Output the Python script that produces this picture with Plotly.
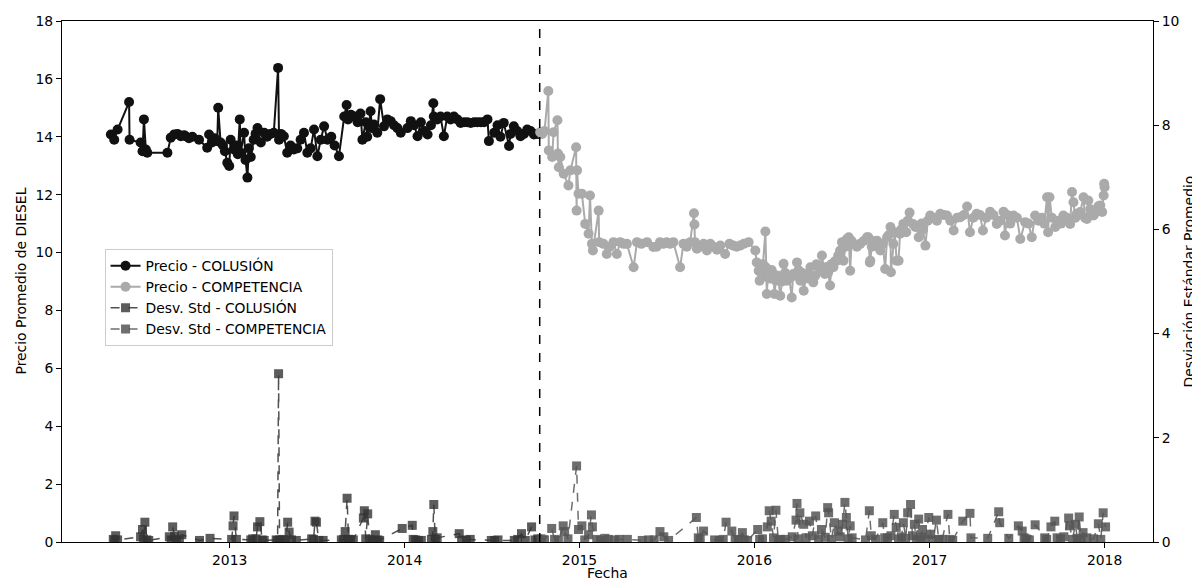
import plotly.graph_objects as go
import pandas as pd

# ---------------- data ----------------
SPLIT_DATE = "2014-10-10"
X_RANGE = ["2012-01-17", "2018-04-12"]
YEAR_TICKS = ["2013-01-01", "2014-01-01", "2015-01-01", "2016-01-01", "2017-01-01", "2018-01-01"]
YEAR_LABELS = ["2013", "2014", "2015", "2016", "2017", "2018"]

colusion_dates = [
    "2012-04-28", "2012-05-05", "2012-05-12", "2012-06-05", "2012-06-06", "2012-06-29",
    "2012-07-03", "2012-07-06", "2012-07-10", "2012-07-13", "2012-08-24", "2012-08-31",
    "2012-09-07", "2012-09-21", "2012-10-01", "2012-10-29", "2012-11-15", "2012-11-19",
    "2012-12-06", "2012-12-08", "2012-12-13", "2012-12-27", "2012-12-31", "2013-01-03",
    "2013-01-10", "2013-01-22", "2013-01-24", "2013-01-31", "2013-02-03", "2013-02-07",
    "2013-02-14", "2013-02-28", "2013-03-07", "2013-03-14", "2013-04-03", "2013-04-12",
    "2013-04-14", "2013-04-24", "2013-05-01", "2013-05-15", "2013-06-05", "2013-06-12",
    "2013-06-26", "2013-07-03", "2013-07-17", "2013-07-24", "2013-08-17", "2013-08-28",
    "2013-09-02", "2013-09-11", "2013-10-01", "2013-10-05", "2013-10-22", "2013-10-29",
    "2013-11-05", "2013-11-11", "2013-11-19", "2013-12-03", "2013-12-24", "2014-01-14",
    "2014-01-28", "2014-02-18", "2014-03-02", "2014-03-03", "2014-03-24", "2014-03-31",
    "2014-04-14", "2014-04-28", "2014-05-19", "2014-06-23", "2014-06-26", "2014-07-07",
    "2014-07-27", "2014-08-07", "2014-08-17", "2014-08-31", "2014-09-14", "2014-09-28",
    "2014-10-08",
    # additional points of the dense band
    "2012-09-14", "2012-09-28", "2012-10-08", "2012-10-15", "2012-11-25", "2012-12-01",
    "2012-12-18", "2012-12-22", "2013-01-15", "2013-01-18", "2013-02-10", "2013-02-20",
    "2013-02-24", "2013-03-20", "2013-03-27", "2013-04-18", "2013-05-08", "2013-05-22",
    "2013-05-29", "2013-06-19", "2013-07-10", "2013-08-01", "2013-08-08", "2013-09-05",
    "2013-09-18", "2013-09-25", "2013-10-12", "2013-10-15", "2013-10-25", "2013-11-26",
    "2013-12-10", "2013-12-17", "2014-01-07", "2014-01-21", "2014-02-04", "2014-02-11",
    "2014-02-25", "2014-03-10", "2014-03-17", "2014-04-07", "2014-04-21", "2014-05-05",
    "2014-05-12", "2014-05-26", "2014-06-02", "2014-06-09", "2014-06-16", "2014-07-14",
    "2014-07-20", "2014-08-10", "2014-08-24", "2014-09-07", "2014-09-21", "2014-10-02",
]
colusion_precio = [
    14.08, 13.90, 14.25, 15.20, 13.90, 13.80,
    13.50, 14.60, 13.56, 13.45, 13.45, 13.97,
    14.08, 14.02, 14.02, 13.90, 13.62, 14.08,
    13.85, 15.00, 13.80, 13.10, 12.99, 13.90,
    13.56, 14.60, 13.45, 14.14, 13.20, 12.59,
    13.30, 14.30, 13.80, 14.14, 14.14, 16.38,
    13.90, 14.02, 13.45, 13.56, 14.14, 13.45,
    14.25, 13.33, 14.36, 13.90, 13.33, 14.70,
    15.10, 14.76, 14.80, 13.90, 14.88, 14.42,
    14.14, 15.30, 14.36, 14.54, 14.14, 14.54,
    14.02, 14.08, 15.16, 14.70, 14.02, 14.70,
    14.70, 14.48, 14.48, 14.60, 13.85, 14.14,
    14.48, 13.68, 14.36, 14.02, 14.25, 14.08,
    14.10,
    14.10, 14.05, 13.95, 14.00, 13.80, 13.95,
    13.70, 13.50, 13.70, 13.40, 13.60, 13.90,
    14.10, 14.00, 14.10, 14.10, 13.70, 13.60,
    13.90, 13.60, 13.90, 14.00, 13.70, 14.60,
    14.70, 14.50, 14.50, 14.00, 14.30, 14.60,
    14.40, 14.30, 14.30, 14.40, 14.50, 14.20,
    14.40, 14.60, 14.70, 14.60, 14.60, 14.50,
    14.50, 14.50, 14.50, 14.50, 14.50, 14.40,
    14.00, 14.10, 14.20, 14.10, 14.20, 14.10,
]

competencia_dates = [
    "2014-10-11", "2014-10-28", "2014-10-29", "2014-11-05", "2014-11-08", "2014-11-16",
    "2014-11-17", "2014-11-19", "2014-11-22", "2014-11-29", "2014-12-09", "2014-12-13",
    "2014-12-25", "2014-12-26", "2014-12-27", "2014-12-30", "2015-01-06", "2015-01-13",
    "2015-01-20", "2015-01-23", "2015-01-27", "2015-01-29", "2015-02-10", "2015-02-11",
    "2015-02-20", "2015-02-27", "2015-03-13", "2015-03-20", "2015-03-27", "2015-04-10",
    "2015-04-24", "2015-05-01", "2015-05-22", "2015-06-04", "2015-06-18", "2015-07-02",
    "2015-07-16", "2015-07-30", "2015-08-20", "2015-08-28", "2015-08-29", "2015-08-30",
    "2015-09-03", "2015-09-17", "2015-09-24", "2015-10-22", "2015-11-01", "2015-11-18",
    "2015-12-02", "2015-12-20", "2016-01-03", "2016-01-06", "2016-01-10", "2016-01-12",
    "2016-01-24", "2016-01-25", "2016-01-27", "2016-01-29", "2016-02-10", "2016-02-12",
    "2016-02-15", "2016-02-24", "2016-03-02", "2016-03-09", "2016-03-19", "2016-03-22",
    "2016-03-30", "2016-04-06", "2016-04-13", "2016-04-19", "2016-04-27", "2016-05-03",
    "2016-05-14", "2016-05-21", "2016-05-27", "2016-06-07", "2016-06-14", "2016-06-21",
    "2016-06-28", "2016-07-02", "2016-07-05", "2016-07-12", "2016-07-16", "2016-07-19",
    "2016-07-26", "2016-08-09", "2016-08-23", "2016-08-26", "2016-08-29", "2016-08-30",
    "2016-09-06", "2016-09-13", "2016-09-20", "2016-09-30", "2016-10-04", "2016-10-11",
    "2016-10-12", "2016-10-24", "2016-10-28", "2016-10-31", "2016-11-07", "2016-11-20",
    "2016-11-27", "2016-12-02", "2016-12-09", "2016-12-23", "2017-01-02", "2017-01-23",
    "2017-02-06", "2017-02-20", "2017-03-06", "2017-03-20", "2017-03-26", "2017-04-09",
    "2017-04-22", "2017-05-07", "2017-05-21", "2017-06-04", "2017-06-07", "2017-06-25",
    "2017-07-09", "2017-07-19", "2017-08-02", "2017-08-09", "2017-09-03", "2017-09-05",
    "2017-09-08", "2017-09-20", "2017-10-07", "2017-10-21", "2017-10-25", "2017-10-28",
    "2017-11-04", "2017-11-18", "2017-11-25", "2017-11-28", "2017-12-09", "2017-12-15",
    "2017-12-23", "2017-12-30", "2017-12-31", "2018-01-01",
    # additional points of the dense band
    "2014-10-15", "2014-10-20", "2015-03-05", "2015-04-03", "2015-05-10", "2015-06-11",
    "2015-06-25", "2015-07-09", "2015-08-06", "2015-08-13", "2015-09-10", "2015-10-01",
    "2015-10-08", "2015-10-15", "2015-11-10", "2015-11-25", "2015-12-10", "2016-01-15",
    "2016-01-19", "2016-02-03", "2016-02-06", "2016-02-19", "2016-02-28", "2016-03-05",
    "2016-03-14", "2016-03-26", "2016-04-02", "2016-04-09", "2016-04-23", "2016-05-07",
    "2016-05-10", "2016-05-18", "2016-05-31", "2016-06-03", "2016-06-10", "2016-06-17",
    "2016-06-24", "2016-07-09", "2016-07-22", "2016-08-02", "2016-08-16", "2016-09-02",
    "2016-09-09", "2016-09-16", "2016-09-25", "2016-10-07", "2016-10-17", "2016-10-20",
    "2016-11-03", "2016-11-13", "2016-11-16", "2016-12-05", "2016-12-15", "2016-12-18",
    "2016-12-28", "2017-01-09", "2017-01-16", "2017-01-30", "2017-02-13", "2017-02-27",
    "2017-03-13", "2017-04-02", "2017-04-16", "2017-04-29", "2017-05-14", "2017-05-28",
    "2017-06-12", "2017-06-18", "2017-07-02", "2017-07-26", "2017-08-16", "2017-08-23",
    "2017-08-28", "2017-09-13", "2017-09-27", "2017-10-02", "2017-10-14", "2017-11-01",
    "2017-11-11", "2017-11-21", "2017-12-02", "2017-12-05", "2017-12-19", "2017-12-27",
]
competencia_precio = [
    14.16, 15.58, 13.53, 13.30, 14.16, 14.57,
    13.42, 12.95, 13.30, 12.72, 12.32, 12.84,
    13.64, 11.45, 12.84, 12.03, 12.03, 10.99,
    10.65, 11.97, 10.30, 10.07, 11.45, 10.36,
    10.30, 9.95, 10.36, 9.95, 10.36, 10.30,
    9.49, 10.36, 10.36, 10.19, 10.36, 10.36,
    10.36, 9.49, 10.36, 11.36, 10.97, 10.36,
    10.13, 10.30, 10.07, 10.24, 9.95, 10.24,
    10.24, 10.36, 10.07, 9.66, 9.37, 9.03,
    10.73, 9.49, 8.57, 9.14, 9.26, 8.57,
    9.03, 8.51, 9.61, 9.03, 8.45, 9.26,
    9.66, 9.03, 8.68, 9.26, 9.49, 8.97,
    9.49, 9.90, 9.26, 8.86, 9.49, 9.72,
    10.07, 10.36, 9.72, 10.47, 10.53, 9.37,
    10.30, 10.30, 10.53, 10.53, 9.66, 9.72,
    10.30, 10.41, 10.07, 9.43, 10.53, 10.88,
    9.32, 9.72, 9.72, 10.65, 10.99, 11.38,
    10.99, 10.88, 10.53, 10.24, 11.28, 11.34,
    11.28, 10.76, 11.22, 11.59, 10.70, 11.34,
    10.76, 11.41, 10.99, 11.41, 10.59, 11.28,
    10.47, 11.05, 10.53, 11.28, 11.91, 10.70,
    11.91, 10.88, 11.28, 10.99, 12.09, 11.74,
    11.34, 11.91, 11.16, 11.80, 11.28, 11.40,
    11.63, 11.97, 12.38, 12.26,
    14.10, 14.20, 10.20, 10.30, 10.30, 10.20,
    10.30, 10.30, 10.30, 10.20, 10.20, 10.30,
    10.20, 10.10, 10.30, 10.20, 10.30, 9.30,
    9.60, 9.10, 9.40, 9.20, 9.00, 9.30,
    9.10, 9.20, 9.40, 9.30, 9.10, 9.20,
    9.60, 9.40, 9.50, 9.30, 9.60, 9.70,
    9.90, 10.20, 10.40, 10.20, 10.40, 10.20,
    10.40, 10.20, 10.30, 10.60, 10.30, 10.70,
    10.80, 10.70, 11.10, 10.90, 11.00, 10.80,
    11.10, 11.20, 11.10, 11.30, 11.10, 11.20,
    11.30, 11.20, 11.30, 11.20, 11.30, 11.10,
    11.30, 11.00, 11.20, 11.00, 11.10, 11.20,
    11.00, 11.20, 11.10, 11.00, 11.20, 11.20,
    11.40, 11.20, 11.50, 11.30, 11.60, 11.40,
]

std_colusion_dates = [
    "2012-05-03", "2012-05-08", "2012-05-12", "2012-06-29", "2012-07-03", "2012-07-08",
    "2012-07-12", "2012-08-28", "2012-09-04", "2012-09-08", "2012-09-23", "2012-10-30",
    "2012-11-21", "2013-01-05", "2013-01-08", "2013-01-10", "2013-01-15", "2013-02-25",
    "2013-02-28", "2013-03-05", "2013-03-10", "2013-04-11", "2013-04-13", "2013-04-15",
    "2013-05-02", "2013-05-05", "2013-05-20", "2013-06-25", "2013-06-28", "2013-07-01",
    "2013-07-15", "2013-08-27", "2013-08-30", "2013-09-03", "2013-09-06", "2013-10-07",
    "2013-10-09", "2013-10-16", "2013-10-20", "2013-11-01", "2013-11-10", "2013-12-27",
    "2014-01-17", "2014-01-19", "2014-02-05", "2014-03-01", "2014-03-03", "2014-03-06",
    "2014-04-25", "2014-05-18", "2014-07-01", "2014-08-18", "2014-09-02", "2014-09-23",
    "2014-10-06",
    # near-zero squares along the baseline
    "2012-05-06", "2012-07-05", "2012-07-16", "2012-09-01", "2012-09-12", "2012-09-18",
    "2013-02-14", "2013-02-18", "2013-03-14", "2013-04-08", "2013-04-22", "2013-04-28",
    "2013-05-10", "2013-06-21", "2013-07-06", "2013-08-22", "2013-09-10", "2013-09-16",
    "2013-10-12", "2013-10-26", "2013-11-06", "2014-01-24", "2014-01-30", "2014-02-26",
    "2014-03-10", "2014-04-30", "2014-05-10", "2014-07-08", "2014-07-15", "2014-08-25",
    "2014-09-10", "2014-09-30",
]
std_colusion = [
    0.05, 0.12, 0.04, 0.10, 0.24, 0.38,
    0.04, 0.10, 0.29, 0.11, 0.14, 0.03,
    0.07, 0.05, 0.31, 0.50, 0.05, 0.06,
    0.29, 0.39, 0.04, 0.03, 3.23, 0.04,
    0.38, 0.19, 0.03, 0.05, 0.40, 0.38,
    0.03, 0.05, 0.20, 0.84, 0.05, 0.46,
    0.60, 0.54, 0.05, 0.14, 0.03, 0.26,
    0.32, 0.05, 0.03, 0.20, 0.72, 0.05,
    0.16, 0.05, 0.03, 0.03, 0.16, 0.29,
    0.06,
    0.03, 0.06, 0.03, 0.04, 0.05, 0.03,
    0.04, 0.06, 0.03, 0.04, 0.05, 0.03,
    0.04, 0.06, 0.03, 0.04, 0.05, 0.04,
    0.06, 0.03, 0.04, 0.04, 0.03, 0.05,
    0.08, 0.03, 0.04, 0.03, 0.04, 0.05,
    0.03, 0.04,
]

std_competencia_dates = [
    "2014-10-13", "2014-11-04", "2014-11-28", "2014-12-01", "2014-12-26", "2014-12-30",
    "2015-01-06", "2015-01-20", "2015-01-26", "2015-01-28", "2015-02-23", "2015-03-02",
    "2015-04-11", "2015-05-25", "2015-06-18", "2015-06-26", "2015-09-02", "2015-09-06",
    "2015-09-17", "2015-10-28", "2015-11-03", "2015-11-15", "2015-12-07", "2015-12-11",
    "2016-01-08", "2016-01-12", "2016-01-28", "2016-02-01", "2016-02-05", "2016-02-15",
    "2016-02-25", "2016-03-28", "2016-03-30", "2016-04-05", "2016-04-13", "2016-04-25",
    "2016-05-08", "2016-05-20", "2016-06-02", "2016-06-04", "2016-06-16", "2016-06-24",
    "2016-07-03", "2016-07-08", "2016-07-11", "2016-07-19", "2016-07-23", "2016-08-28",
    "2016-09-01", "2016-09-25", "2016-09-29", "2016-10-19", "2016-10-23", "2016-11-07",
    "2016-11-16", "2016-11-22", "2016-11-30", "2016-12-09", "2016-12-17", "2016-12-30",
    "2017-01-03", "2017-01-15", "2017-01-27", "2017-02-08", "2017-02-12", "2017-03-11",
    "2017-03-26", "2017-03-28", "2017-05-02", "2017-05-25", "2017-05-27", "2017-06-15",
    "2017-07-05", "2017-07-13", "2017-07-17", "2017-08-09", "2017-08-29", "2017-09-11",
    "2017-09-19", "2017-10-18", "2017-10-20", "2017-11-01", "2017-11-09", "2017-11-17",
    "2017-11-25", "2017-12-19", "2017-12-29", "2018-01-03",
    # near-zero squares along the baseline
    "2014-10-20", "2014-11-10", "2014-11-18", "2014-12-08", "2015-01-12", "2015-02-06",
    "2015-02-14", "2015-03-15", "2015-03-25", "2015-05-12", "2015-06-06", "2015-07-06",
    "2015-09-10", "2015-10-10", "2015-10-20", "2015-11-22", "2015-11-29", "2015-12-18",
    "2016-01-18", "2016-02-10", "2016-02-20", "2016-03-06", "2016-03-20", "2016-04-01",
    "2016-04-18", "2016-05-01", "2016-05-14", "2016-05-28", "2016-06-10", "2016-06-28",
    "2016-07-15", "2016-08-20", "2016-09-10", "2016-10-05", "2016-10-12", "2016-10-28",
    "2016-11-03", "2016-11-12", "2016-11-26", "2016-12-04", "2016-12-13", "2016-12-22",
    "2017-01-08", "2017-01-20", "2017-02-18", "2017-07-21", "2017-07-28", "2017-09-02",
    "2017-09-24", "2017-10-01", "2017-10-08", "2017-10-26", "2017-11-05", "2017-11-13",
    "2017-12-09", "2017-12-24",
]
std_competencia = [
    0.06, 0.26, 0.31, 0.20, 1.46, 0.24,
    0.31, 0.14, 0.52, 0.29, 0.07, 0.05,
    0.05, 0.04, 0.20, 0.10, 0.47, 0.08,
    0.21, 0.05, 0.38, 0.21, 0.18, 0.04,
    0.24, 0.05, 0.29, 0.60, 0.40, 0.61,
    0.05, 0.42, 0.74, 0.56, 0.34, 0.40,
    0.50, 0.24, 0.66, 0.56, 0.37, 0.21,
    0.34, 0.76, 0.47, 0.31, 0.08, 0.60,
    0.12, 0.37, 0.08, 0.53, 0.28, 0.37,
    0.56, 0.72, 0.34, 0.44, 0.24, 0.47,
    0.15, 0.42, 0.05, 0.53, 0.05, 0.40,
    0.55, 0.08, 0.07, 0.58, 0.37, 0.07,
    0.31, 0.21, 0.08, 0.33, 0.08, 0.29,
    0.40, 0.46, 0.31, 0.34, 0.48, 0.18,
    0.08, 0.35, 0.56, 0.29,
    0.04, 0.05, 0.03, 0.06, 0.04, 0.05,
    0.03, 0.04, 0.05, 0.03, 0.04, 0.03,
    0.05, 0.04, 0.03, 0.05, 0.04, 0.03,
    0.06, 0.08, 0.04, 0.05, 0.10, 0.06,
    0.08, 0.12, 0.06, 0.09, 0.05, 0.10,
    0.06, 0.04, 0.05, 0.08, 0.12, 0.06,
    0.10, 0.07, 0.12, 0.05, 0.09, 0.06,
    0.04, 0.05, 0.03, 0.06, 0.04, 0.05,
    0.08, 0.06, 0.10, 0.05, 0.07, 0.04,
    0.06, 0.05,
]


def sorted_series(dates, values):
    s = pd.Series(values, index=pd.to_datetime(dates)).sort_index()
    return s.index, s.values


# ---------------- figure ----------------
FONT = "DejaVu Sans"
FS = 13.9

# page body has an 8px margin: the figure is sized and offset to fill the 1200x583 window
W, H = 1192, 575
ML, MR, MT, MB = 54, 47, 13, 41

fig = go.Figure()

x, y = sorted_series(colusion_dates, colusion_precio)
fig.add_trace(go.Scatter(
    x=x, y=y, mode="lines+markers", name="Precio - COLUSIÓN",
    line=dict(color="#111111", width=2),
    marker=dict(symbol="circle", size=10, color="#111111"),
    yaxis="y",
))
x, y = sorted_series(competencia_dates, competencia_precio)
fig.add_trace(go.Scatter(
    x=x, y=y, mode="lines+markers", name="Precio - COMPETENCIA",
    line=dict(color="#aaaaaa", width=2),
    marker=dict(symbol="circle", size=10, color="#aaaaaa"),
    yaxis="y",
))
x, y = sorted_series(std_colusion_dates, std_colusion)
fig.add_trace(go.Scatter(
    x=x, y=y, mode="lines+markers", name="Desv. Std - COLUSIÓN",
    line=dict(color="rgba(51,51,51,0.85)", width=1.5, dash="dash"),
    marker=dict(symbol="square", size=9, color="#333333", opacity=0.8),
    yaxis="y2",
))
x, y = sorted_series(std_competencia_dates, std_competencia)
fig.add_trace(go.Scatter(
    x=x, y=y, mode="lines+markers", name="Desv. Std - COMPETENCIA",
    line=dict(color="rgba(85,85,85,0.85)", width=1.5, dash="dash"),
    marker=dict(symbol="square", size=9, color="#555555", opacity=0.85),
    yaxis="y2",
))

fig.add_shape(
    type="line", xref="x", yref="paper",
    x0=SPLIT_DATE, x1=SPLIT_DATE, y0=0, y1=1,
    line=dict(color="black", width=1.5, dash="dash"),
)

axis_common = dict(
    showgrid=False, zeroline=False, showline=True, linecolor="black", linewidth=1,
    ticks="outside", ticklen=5, tickwidth=1, tickcolor="black",
    tickfont=dict(family=FONT, size=FS, color="black"),
    automargin=False,
)

title_font = dict(family=FONT, size=FS, color="black")
fig.add_annotation(text="Fecha", xref="paper", yref="paper", x=0.5, y=0,
                   xanchor="center", yanchor="middle", yshift=-31,
                   showarrow=False, font=title_font)
fig.add_annotation(text="Precio Promedio de DIESEL", xref="paper", yref="paper",
                   x=0, y=0.5, xanchor="center", yanchor="middle", xshift=-42,
                   textangle=-90, showarrow=False, font=title_font)
fig.add_annotation(text="Desviación Estándar Promedio", xref="paper", yref="paper",
                   x=1, y=0.5, xanchor="center", yanchor="middle", xshift=35,
                   textangle=-90, showarrow=False, font=title_font)

fig.update_layout(
    template="none",
    width=W, height=H,
    margin=dict(l=ML, r=MR, t=MT, b=MB),
    paper_bgcolor="white", plot_bgcolor="white",
    font=dict(family=FONT, size=FS, color="black"),
    showlegend=True,
    legend=dict(
        x=0.039, y=0.562, xanchor="left", yanchor="top",
        bgcolor="rgba(255,255,255,0.8)", bordercolor="#cccccc", borderwidth=1,
        font=dict(family=FONT, size=FS, color="black"),
        tracegroupgap=0, itemwidth=30,
    ),
    xaxis=dict(
        **axis_common,
        type="date", range=X_RANGE, mirror=True,
        tickvals=YEAR_TICKS, ticktext=YEAR_LABELS,
    ),
    yaxis=dict(
        **axis_common,
        range=[0, 18], dtick=2, tick0=0, mirror=False,
    ),
    yaxis2=dict(
        **axis_common,
        range=[0, 10], dtick=2, tick0=0, overlaying="y", side="right",
    ),
)

fig.write_html("out.html")
